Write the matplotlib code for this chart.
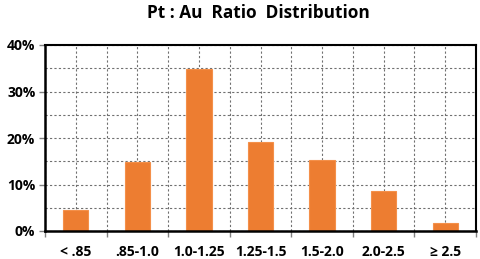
import matplotlib.pyplot as plt
import numpy as np

categories = ["< .85", ".85-1.0", "1.0-1.25", "1.25-1.5", "1.5-2.0", "2.0-2.5", "\u2265 2.5"]
values = [4.5, 14.9, 34.8, 19.1, 15.3, 8.7, 1.8]

plt.rcParams['font.family'] = ['Open Sans', 'DejaVu Sans']

fig = plt.figure(figsize=(4.8, 2.59), dpi=100)
ax = fig.add_axes([45 / 480, 1 - 231 / 259, 431 / 480, 186 / 259])

x = np.arange(len(categories))
ax.bar(x, values, width=0.41, color="#ED7D31", edgecolor="#F4904A", linewidth=0.8, zorder=3)

ax.set_xlim(-0.5, len(categories) - 0.5)
ax.set_ylim(0, 40)

# boundaries as major ticks (no labels), centers as minor ticks (labels)
ax.set_xticks(np.arange(-0.5, len(categories), 1.0))
ax.set_xticklabels([])
ax.set_xticks(x, minor=True)
ax.set_xticklabels(categories, minor=True, fontsize=10, fontweight="bold")
ax.tick_params(axis="x", which="major", length=4, width=1, color="#808080", direction="out")
ax.tick_params(axis="x", which="minor", length=0, pad=10)

ax.set_yticks([0, 10, 20, 30, 40])
ax.set_yticklabels(["0%", "10%", "20%", "30%", "40%"], fontsize=10, fontweight="bold")
ax.set_yticks(np.arange(5, 40, 10), minor=True)
ax.tick_params(axis="y", which="major", length=4, width=1, color="#808080", pad=3)
ax.tick_params(axis="y", which="minor", length=0)

ax.grid(True, which="both", color="#707070", linestyle=(0, (2, 2)), linewidth=0.8, zorder=0)
ax.set_axisbelow(True)

for s in ["left", "bottom"]:
    ax.spines[s].set_linewidth(1.8)
for s in ["top", "right"]:
    ax.spines[s].set_linewidth(1.5)
for s in ax.spines.values():
    s.set_color("black")
    s.set_zorder(4)

fig.text(258 / 480, 1 - 13 / 259, "Pt : Au  Ratio  Distribution", ha="center", va="center",
         fontsize=12.4, fontweight="bold")

fig.savefig("out.png", dpi=100)
